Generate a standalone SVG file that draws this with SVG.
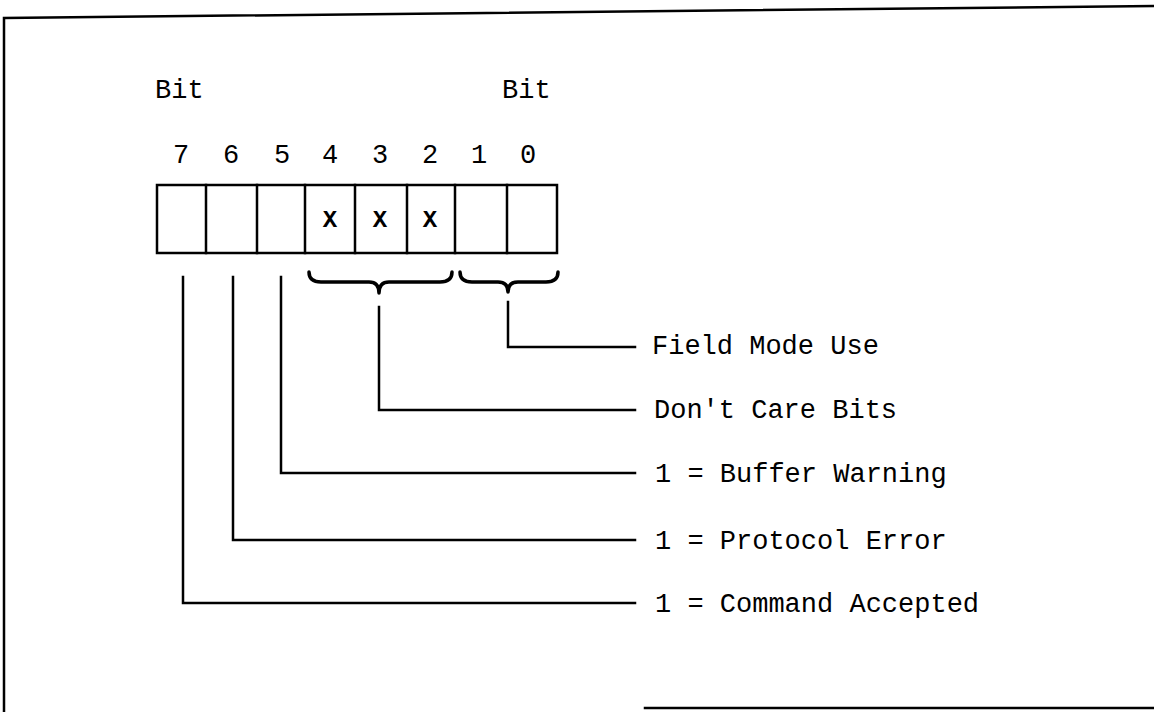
<svg xmlns="http://www.w3.org/2000/svg" width="1154" height="712" viewBox="0 0 1154 712">
<style>
.ln{stroke:#000;stroke-width:2.5;fill:none;stroke-linecap:square}
.br{stroke:#000;stroke-width:3.5;fill:none;stroke-linecap:round;stroke-linejoin:round}
.t{font-family:"Liberation Mono","Courier New",monospace;font-size:27px;fill:#000}
.d{font-family:"Liberation Mono","Courier New",monospace;font-size:27px;fill:#000;text-anchor:middle}
.x{font-family:"Liberation Mono","Courier New",monospace;font-size:24px;font-weight:bold;fill:#000;text-anchor:middle}
</style>
<rect width="1154" height="712" fill="#fff"/>
<g id="frame">
<path class="ln" d="M4,712 L4,18 L1154,6"/>
<path class="ln" d="M645,708 L1154,708"/>
</g>
<g id="headers">
<text class="t" x="155" y="98">Bit</text>
<text class="t" x="502" y="98">Bit</text>
<text class="d" x="181" y="163">7</text>
<text class="d" x="231" y="163">6</text>
<text class="d" x="282" y="163">5</text>
<text class="d" x="330" y="163">4</text>
<text class="d" x="380" y="163">3</text>
<text class="d" x="430" y="163">2</text>
<text class="d" x="479" y="163">1</text>
<text class="d" x="528" y="163">0</text>
</g>
<g id="register">
<rect class="ln" x="157" y="185" width="400" height="68"/>
<path class="ln" d="M206,185V253M257,185V253M305,185V253M355,185V253M407,185V253M455,185V253M507,185V253"/>
<text class="x" x="330" y="227">X</text>
<text class="x" x="380" y="227">X</text>
<text class="x" x="430" y="227">X</text>
</g>
<g id="braces">
<path class="br" d="M309,272 Q309,282 321,282 L369,282 Q379,282 379,293 Q379,282 389,282 L440,282 Q452,282 452,272"/>
<path class="br" d="M460,272 Q460,282 472,282 L498,282 Q508,282 508,292 Q508,282 518,282 L546,282 Q558,282 558,272"/>
</g>
<g id="connectors">
<path class="ln" d="M508,302 V347 H635"/>
<path class="ln" d="M379,307 V410 H635"/>
<path class="ln" d="M281,277 V473 H635"/>
<path class="ln" d="M233,277 V540 H635"/>
<path class="ln" d="M183,277 V603 H635"/>
</g>
<g id="labels">
<text class="t" x="652" y="354">Field Mode Use</text>
<text class="t" x="654" y="418">Don't Care Bits</text>
<text class="t" x="655" y="482">1 = Buffer Warning</text>
<text class="t" x="655" y="549">1 = Protocol Error</text>
<text class="t" x="655" y="612">1 = Command Accepted</text>
</g>
</svg>
